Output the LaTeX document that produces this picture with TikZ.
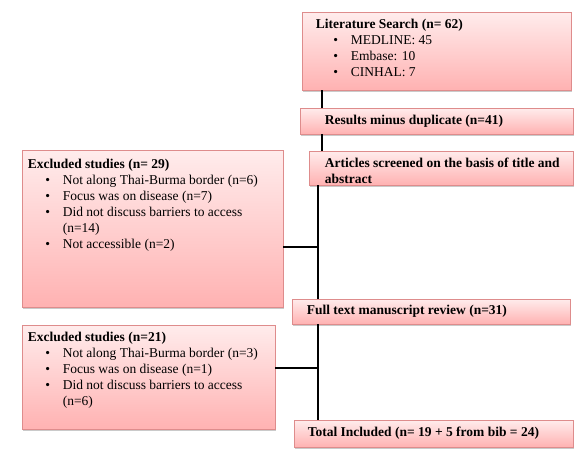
\documentclass[tikz,border=0pt]{standalone}
\usepackage{fontspec}
\setmainfont{Liberation Serif}
\usetikzlibrary{shadows,positioning}
\definecolor{boxtop}{RGB}{255,236,236}
\definecolor{boxbottom}{RGB}{255,178,178}
\definecolor{boxline}{RGB}{222,140,140}
\tikzstyle{stagebox}=[rectangle,draw=boxline,line width=0.8pt,top color=boxtop,bottom color=boxbottom,inner sep=0pt,drop shadow={shadow xshift=1.2pt,shadow yshift=-1.6pt,opacity=0.35,fill=black!60}]
\tikzstyle{boxtext}=[inner sep=0pt,align=left,font=\fontsize{13.5}{16}\selectfont]
\tikzstyle{flow} = [draw,line width=1.3pt,black]
\newcommand{\itm}{\hspace*{17.5pt}\makebox[17.5pt][l]{\textbullet}}
\newcommand{\cnt}{\hspace*{35pt}}

\begin{document}
\begin{tikzpicture}[x=1pt,y=-1pt]
    \useasboundingbox (0,0) rectangle (588,459);

    % stage boxes
    \foreach \pos/ \w/ \h/ \name in {{(436.5,51)/269/78/lit}, {(436.5,121)/273/26/dup}, {(441,168)/264/34/scr},
        {(152.5,228.5)/261/157/exA}, {(431,311.5)/278/25/full}, {(148.5,377)/253/104/exB}, {(433.5,433.5)/279/27/tot}}
        \node[stagebox,minimum width=\w pt,minimum height=\h pt] (\name) at \pos {};

    % texts
    \node[boxtext,anchor=north west] (litT) at ([xshift=14pt,yshift=-7pt]lit.north west)
        {\textbf{Literature Search (n= 62)}\\ \itm MEDLINE: 45\\ \itm Embase: 10\\ \itm CINHAL: 7};
    \node[boxtext,anchor=west] (dupT) at ([xshift=25pt]dup.west) {\textbf{Results minus duplicate (n=41)}};
    \node[boxtext,anchor=north west] (scrT) at ([xshift=16pt,yshift=-7pt]scr.north west)
        {\textbf{Articles screened on the basis of title and}\\ \textbf{abstract}};
    \node[boxtext,anchor=north west] (exAT) at ([xshift=6pt,yshift=-9pt]exA.north west)
        {\textbf{Excluded studies (n= 29)}\\ \itm Not along Thai-Burma border (n=6)\\ \itm Focus was on disease (n=7)\\
         \itm Did not discuss barriers to access\\ \cnt (n=14)\\ \itm Not accessible (n=2)};
    \node[boxtext,anchor=west] (fullT) at ([xshift=15pt]full.west) {\textbf{Full text manuscript review (n=31)}};
    \node[boxtext,anchor=north west] (exBT) at ([xshift=6pt,yshift=-7pt]exB.north west)
        {\textbf{Excluded studies (n=21)}\\ \itm Not along Thai-Burma border (n=3)\\ \itm Focus was on disease (n=1)\\
         \itm Did not discuss barriers to access\\ \cnt (n=6)};
    \node[boxtext,anchor=west] (totT) at ([xshift=14pt]tot.west) {\textbf{Total Included (n= 19 + 5 from bib = 24)}};

    % connectors
    \coordinate (upper) at (322,0);
    \coordinate (spine) at (318,0);
    \coordinate (jointA) at (318,247);
    \coordinate (jointB) at (318,368);
    \draw[flow] (lit.south -| upper) -- (dup.north -| upper);
    \draw[flow] (dup.south -| upper) -- (scr.north -| upper);
    \draw[flow] (scr.south -| spine) -- (full.north -| spine);
    \draw[flow] (full.south -| spine) -- (tot.north -| spine);
    \draw[flow] (exA.east |- jointA) -- (jointA);
    \draw[flow] (exB.east |- jointB) -- (jointB);
\end{tikzpicture}
\end{document}
